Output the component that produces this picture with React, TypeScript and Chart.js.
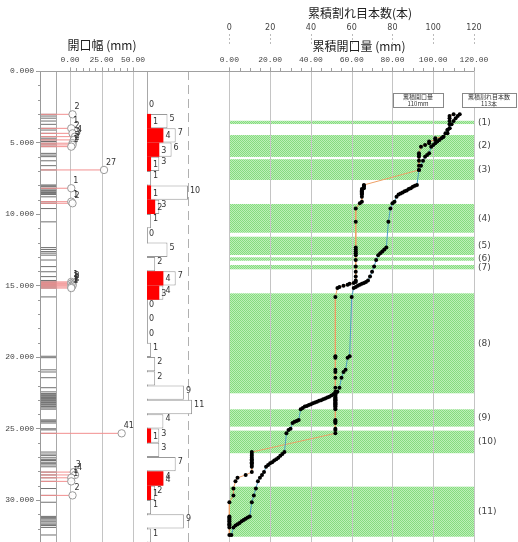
import React, { useEffect, useRef } from 'react';
import { Chart, registerables } from 'chart.js';

Chart.register(...registerables);

const W = 518;
const H = 542;

// ---------- data ----------
// depth of every fracture (m)
const fractureDepths = [
  3.03, 3.15, 3.3, 3.5, 3.73,
  4.01, 4.13, 4.36, 4.59, 4.7, 4.82, 4.93,
  5.05, 5.17, 5.29, 5.76, 5.88, 5.99,
  6.28, 6.62, 6.92,
  7.97,
  8.03, 8.09, 8.2, 8.26, 8.35, 8.41, 8.5, 8.56, 8.64, 8.8,
  9.14, 9.25, 9.62,
  10.55,
  12.35, 12.48, 12.63, 12.74, 12.88,
  13.22, 13.68,
  14.04, 14.38, 14.65, 14.75, 14.82, 14.88, 14.95,
  15.02, 15.1, 15.18, 15.8,
  19.95,
  20.05, 20.9,
  21.05, 21.45,
  22.15, 22.44, 22.56, 22.61, 22.7, 22.78, 22.83, 22.91, 22.96,
  23.03, 23.07, 23.14, 23.19, 23.23, 23.31, 23.35, 23.43, 23.47, 23.56, 23.65,
  24.4, 24.47, 24.53, 24.62,
  25.02, 25.1, 25.34,
  26.65, 26.79, 26.9,
  27.05, 27.16, 27.24, 27.36, 27.44, 27.55, 27.68,
  28.05, 28.25, 28.45, 28.7,
  29.2, 29.68,
  30.16,
  31.15, 31.22, 31.31, 31.4, 31.49, 31.61, 31.7, 31.79, 31.92,
  32.45,
];

// open fractures: depth (m) and aperture (mm)
const openDepths = [3.03, 4.01, 4.36, 4.59, 4.82, 5.05, 5.17, 5.29, 6.92, 8.2, 9.14, 9.25,
  14.75, 14.82, 14.88, 14.95, 15.02, 15.1, 15.18, 25.34, 28.05, 28.25, 28.45, 28.7, 29.68];
const openApertures = [2, 1, 2, 4, 3, 2, 2, 1, 27, 1, 1, 2,
  1, 2, 1, 2, 2, 1, 1, 41, 3, 4, 1, 1, 2];

// 1 m histogram: bin start depth, total count, open count
const histBins = [2, 3, 4, 5, 6, 7, 8, 9, 10, 11, 12, 13, 14, 15, 16, 17, 18, 19, 20, 21, 22, 23, 24, 25, 26, 27, 28, 29, 30, 31, 32];
const histTotal = [0, 5, 7, 6, 3, 1, 10, 3, 1, 0, 5, 2, 7, 4, 0, 0, 0, 1, 2, 2, 9, 11, 4, 3, 3, 7, 4, 2, 1, 9, 1];
const histOpen = [0, 1, 4, 3, 1, 0, 1, 2, 0, 0, 0, 0, 4, 3, 0, 0, 0, 0, 0, 0, 0, 0, 0, 1, 0, 0, 4, 1, 0, 0, 0];

// zones
const bandTop = [3.48, 4.48, 6.17, 9.3, 11.59, 13.03, 13.57, 15.55, 23.66, 25.15, 29.07];
const bandBottom = [3.71, 6.01, 7.62, 11.31, 12.87, 13.27, 13.87, 22.54, 24.87, 26.73, 32.57];
const bandLabels = ['(1)', '(2)', '(3)', '(4)', '(5)', '(6)', '(7)', '(8)', '(9)', '(10)', '(11)'];

// tick labels
const depthTicks = [0, 5, 10, 15, 20, 25, 30];
const apertureTicks = [0, 25, 50];
const cumTicks = [0, 20, 40, 60, 80, 100, 120];
const countTicks = [0, 20, 40, 60, 80, 100, 120];

// ---------- layout constants ----------
const DEPTH_MAX = 32.94;
const AP_MIN = -23.02;
const AP_MAX = 320.6;
const TRACK_LEFT = -23.02;
const TRACK_RIGHT = -11.1;
const HIST_MIN = -25.85;
const HIST_MAX = 79.76;
const HIST_GUIDE = 10;
const CUM_MIN = -92.4;
const CUM_MAX = 120;

const NUM_FONT = '"Liberation Mono", "DejaVu Sans Mono", monospace';
const JP_FONT = '"Noto Sans CJK JP", "Noto Sans", sans-serif';

// ---------- derived ----------
const apertureAt = (d: number) => {
  const i = openDepths.indexOf(d);
  return i < 0 ? 0 : openApertures[i];
};
const cumCount: number[] = [];
const cumAperture: number[] = [];
{
  let c = 0;
  let a = 0;
  for (let i = fractureDepths.length - 1; i >= 0; i--) {
    c += 1;
    a += apertureAt(fractureDepths[i]);
    cumCount[i] = c;
    cumAperture[i] = a;
  }
}
const totalCount = cumCount[0];
const totalAperture = cumAperture[0];

let patternCache: CanvasPattern | null = null;
const getPattern = (ctx: CanvasRenderingContext2D) => {
  if (patternCache) return patternCache;
  const c = document.createElement('canvas');
  c.width = 4;
  c.height = 4;
  const g = c.getContext('2d')!;
  g.fillStyle = '#bdf0b8';
  g.fillRect(0, 0, 4, 4);
  g.fillStyle = '#86db80';
  for (let yy = 0; yy < 4; yy++) {
    for (let xx = 0; xx < 4; xx++) {
      if ((xx + yy) % 2 === 0) g.fillRect(xx, yy, 1, 1);
    }
  }
  patternCache = ctx.createPattern(c, 'repeat');
  return patternCache!;
};

const decor = {
  id: 'decor',
  beforeDatasetsDraw(chart: any) {
    const { ctx, chartArea: ca, scales } = chart;
    const y = scales.y;
    const xc = scales.xCum;
    const xa = scales.xAp;
    const xh = scales.xHist;
    ctx.save();
    // zones
    ctx.fillStyle = getPattern(ctx);
    const bx0 = xc.getPixelForValue(0);
    const bx1 = xc.getPixelForValue(CUM_MAX);
    bandTop.forEach((t, i) => {
      const y0 = y.getPixelForValue(t);
      const y1 = y.getPixelForValue(bandBottom[i]);
      ctx.fillRect(bx0, y0, bx1 - bx0, y1 - y0);
    });
    const vline = (x: number, y0: number, y1: number) => {
      const px = Math.round(x) + 0.5;
      ctx.beginPath();
      ctx.moveTo(px, y0);
      ctx.lineTo(px, y1);
      ctx.stroke();
    };
    const hline = (x0: number, x1: number, yy: number) => {
      const py = Math.round(yy) + 0.5;
      ctx.beginPath();
      ctx.moveTo(x0, py);
      ctx.lineTo(x1, py);
      ctx.stroke();
    };
    ctx.lineWidth = 1;
    ctx.strokeStyle = '#c4c4c4';
    cumTicks.forEach((v) => vline(xc.getPixelForValue(v), ca.top - 4, ca.bottom));
    apertureTicks.forEach((v) => vline(xa.getPixelForValue(v), ca.top - 4, ca.bottom));
    ctx.strokeStyle = '#a8a8a8';
    vline(xa.getPixelForValue(TRACK_RIGHT), ca.top, ca.bottom);
    vline(xh.getPixelForValue(0), ca.top, ca.bottom);
    ctx.strokeStyle = '#b0b0b0';
    ctx.setLineDash([9, 5]);
    vline(xh.getPixelForValue(HIST_GUIDE), ca.top, ca.bottom);
    ctx.setLineDash([]);
    // depth axis
    ctx.strokeStyle = '#999';
    vline(ca.left - 1, ca.top, ca.bottom);
    for (let v = 0; v <= DEPTH_MAX; v += 1) {
      const major = depthTicks.includes(v);
      hline(ca.left - (major ? 5 : 3), ca.left - 1, y.getPixelForValue(v));
    }
    ctx.fillStyle = '#444';
    ctx.font = `8px ${NUM_FONT}`;
    ctx.textAlign = 'right';
    ctx.textBaseline = 'middle';
    depthTicks.forEach((v) => ctx.fillText(v.toFixed(3), ca.left - 7, y.getPixelForValue(v)));
    // top axis line
    ctx.strokeStyle = '#a0a0a0';
    hline(ca.left - 4, ca.right, ca.top);
    // minor ticks
    for (let v = 0; v <= apertureTicks[apertureTicks.length - 1]; v += 5) {
      vline(xa.getPixelForValue(v), ca.top - 3, ca.top);
    }
    for (let v = 0; v <= CUM_MAX; v += 5) {
      vline(xc.getPixelForValue(v), ca.top - 3, ca.top);
    }
    ctx.restore();
  },
  afterDatasetsDraw(chart: any) {
    const { ctx, scales } = chart;
    const y = scales.y;
    const xc = scales.xCum;
    const xa = scales.xAp;
    const xh = scales.xHist;
    ctx.save();
    ctx.fillStyle = '#333';
    ctx.textBaseline = 'middle';
    ctx.textAlign = 'left';
    ctx.font = '8px "DejaVu Sans", sans-serif';
    // histogram labels
    histBins.forEach((b, i) => {
      const yc = y.getPixelForValue(b + 0.5);
      ctx.fillText(String(histTotal[i]), xh.getPixelForValue(histTotal[i]) + 2, yc - 2);
      if (histOpen[i] > 0) {
        ctx.fillText(String(histOpen[i]), xh.getPixelForValue(histOpen[i]) + 2, yc + 1);
      }
    });
    // aperture labels
    openDepths.forEach((d, i) => {
      ctx.fillText(String(openApertures[i]), xa.getPixelForValue(openApertures[i]) + 2, y.getPixelForValue(d) - 7);
    });
    // zone labels
    ctx.font = '9px "DejaVu Sans", sans-serif';
    ctx.fillStyle = '#444';
    bandLabels.forEach((l, i) => {
      ctx.fillText(l, xc.getPixelForValue(CUM_MAX) + 4, y.getPixelForValue((bandTop[i] + bandBottom[i]) / 2));
    });
    // top tick labels
    ctx.textAlign = 'center';
    ctx.fillStyle = '#444';
    ctx.font = `8px ${NUM_FONT}`;
    apertureTicks.forEach((v) => ctx.fillText(v.toFixed(2), xa.getPixelForValue(v), 60));
    cumTicks.forEach((v) => ctx.fillText(v.toFixed(2), xc.getPixelForValue(v), 60));
    ctx.font = '8px "DejaVu Sans", sans-serif';
    countTicks.forEach((v) => ctx.fillText(String(v), xc.getPixelForValue(v), 28));
    ctx.strokeStyle = '#bbb';
    ctx.setLineDash([2, 2]);
    countTicks.forEach((v) => {
      const px = Math.round(xc.getPixelForValue(v)) + 0.5;
      ctx.beginPath();
      ctx.moveTo(px, 34);
      ctx.lineTo(px, 45);
      ctx.stroke();
    });
    ctx.setLineDash([]);
    // titles
    ctx.fillStyle = '#222';
    ctx.font = `12px ${JP_FONT}`;
    ctx.fillText('開口幅 (mm)', 102, 45);
    ctx.fillText('累積開口量 (mm)', 359, 46);
    ctx.fillText('累積割れ目本数(本)', 360, 13);
    // summary boxes
    const box = (x: number, w: number, l1: string, l2: string) => {
      ctx.fillStyle = '#fff';
      ctx.fillRect(x, 93, w, 14);
      ctx.strokeStyle = '#888';
      ctx.lineWidth = 1;
      ctx.strokeRect(x + 0.5, 93.5, w, 14);
      ctx.fillStyle = '#333';
      ctx.font = `6px ${JP_FONT}`;
      ctx.fillText(l1, x + w / 2, 97);
      ctx.fillText(l2, x + w / 2, 103.5);
    };
    box(393, 50, '累積開口量', `${totalAperture}mm`);
    box(462, 54, '累積割れ目本数', `${totalCount}本`);
    ctx.restore();
  },
};

export default function App() {
  const ref = useRef<HTMLCanvasElement | null>(null);
  useEffect(() => {
    if (!ref.current) return;
    const gap = { x: NaN, y: NaN };
    const trackData = fractureDepths.flatMap((d) => [{ x: TRACK_LEFT, y: d }, { x: TRACK_RIGHT, y: d }, gap]);
    const openLineData = openDepths.flatMap((d, i) => [{ x: TRACK_LEFT, y: d }, { x: openApertures[i], y: d }, gap]);
    const openPointData = openDepths.map((d, i) => ({ x: openApertures[i], y: d }));
    const chart = new Chart(ref.current, {
      type: 'scatter',
      data: {
        datasets: [
          {
            type: 'line', label: 'track', data: trackData, xAxisID: 'xAp', yAxisID: 'y',
            borderColor: '#707070', borderWidth: 1, pointRadius: 0, spanGaps: false, order: 5,
          },
          {
            type: 'line', label: 'openLines', data: openLineData, xAxisID: 'xAp', yAxisID: 'y',
            borderColor: '#f29090', borderWidth: 1, pointRadius: 0, spanGaps: false, order: 4,
          },
          {
            type: 'scatter', label: 'apertures', data: openPointData, xAxisID: 'xAp', yAxisID: 'y',
            pointRadius: 3.7, pointBorderColor: '#999', pointBackgroundColor: 'rgba(255,255,255,0.9)', pointBorderWidth: 1, order: 3,
          },
          {
            type: 'bar', label: 'total', indexAxis: 'y', xAxisID: 'xHist', yAxisID: 'y',
            data: histBins.map((b, i) => ({ x: histTotal[i], y: b + 0.5 })),
            backgroundColor: '#fff', borderColor: '#999', borderWidth: 1, borderSkipped: 'start',
            inflateAmount: 0, grouped: false, barPercentage: 1, categoryPercentage: 1, order: 6,
          },
          {
            type: 'bar', label: 'open', indexAxis: 'y', xAxisID: 'xHist', yAxisID: 'y',
            data: histBins.map((b, i) => ({ x: histOpen[i], y: b + 0.5 })),
            backgroundColor: '#ff0000', borderWidth: 0,
            inflateAmount: 0, grouped: false, barPercentage: 1, categoryPercentage: 1, order: 2,
          },
          {
            type: 'line', label: 'cumAperture', xAxisID: 'xCum', yAxisID: 'y',
            data: fractureDepths.map((d, i) => ({ x: cumAperture[i], y: d })),
            borderColor: '#eea066', borderWidth: 1, pointRadius: 2, pointBackgroundColor: '#000',
            pointBorderWidth: 0, order: 1,
          },
          {
            type: 'line', label: 'cumCount', xAxisID: 'xCum', yAxisID: 'y',
            data: fractureDepths.map((d, i) => ({ x: cumCount[i], y: d })),
            borderColor: '#4d9fc4', borderWidth: 1, pointRadius: 2, pointBackgroundColor: '#000',
            pointBorderWidth: 0, order: 0,
          },
        ] as any,
      },
      options: {
        responsive: false,
        devicePixelRatio: 1,
        animation: false,
        layout: { autoPadding: false, padding: { left: 41, top: 71, right: 44, bottom: 0 } },
        plugins: { legend: { display: false }, tooltip: { enabled: false } },
        scales: {
          x: { type: 'linear', display: false },
          xAp: { type: 'linear', axis: 'x', display: false, min: AP_MIN, max: AP_MAX },
          xHist: { type: 'linear', axis: 'x', display: false, min: HIST_MIN, max: HIST_MAX },
          xCum: { type: 'linear', axis: 'x', display: false, min: CUM_MIN, max: CUM_MAX },
          y: {
            type: 'linear',
            display: false,
            offset: false,
            reverse: true,
            min: 0,
            max: DEPTH_MAX,
            grid: { offset: false },
          },
        } as any,
      },
      plugins: [decor],
    });
    return () => chart.destroy();
  }, []);
  return (
    <div style={{ position: 'fixed', left: 0, top: 0, width: W, height: H, background: '#fff' }}>
      <canvas ref={ref} width={W} height={H} style={{ display: 'block', width: W, height: H }} />
    </div>
  );
}
